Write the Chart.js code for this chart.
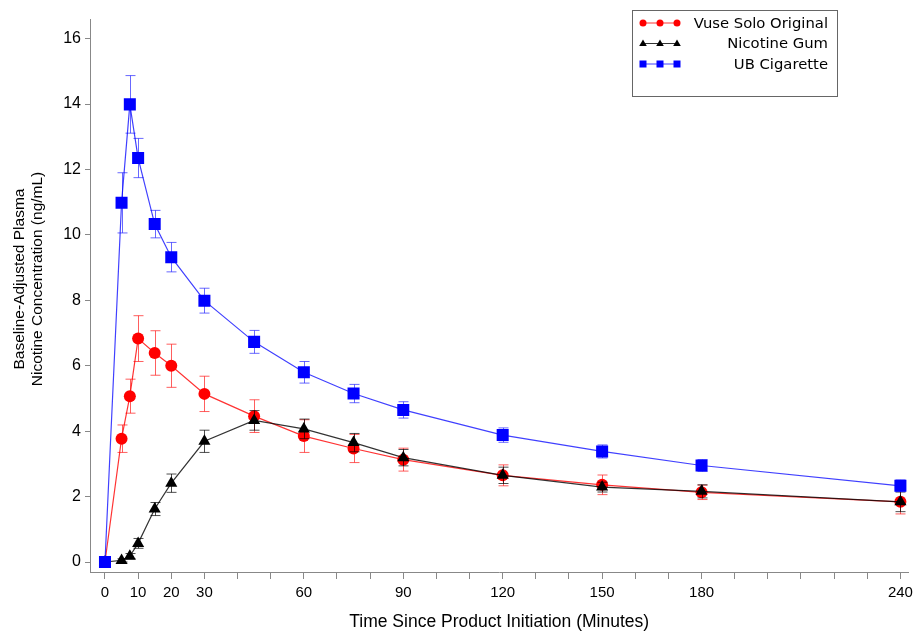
<!DOCTYPE html>
<html>
<head>
<meta charset="utf-8">
<script src="https://cdn.jsdelivr.net/npm/chart.js@4.4.1/dist/chart.umd.min.js"></script>
<style>
  body { margin: 0; background: #fff; }
  #wrap { width: 918px; height: 633px; }
</style>
</head>
<body>
<div id="wrap"><canvas id="pk" width="918" height="633"></canvas></div>
<script>
// sampling times (minutes) and mean +/- SE per product
const times = [0, 5, 7.5, 10, 15, 20, 30, 45, 60, 75, 90, 120, 150, 180, 240];
const vuseMean = [0, 3.77, 5.07, 6.83, 6.39, 6.0, 5.14, 4.46, 3.85, 3.47, 3.13, 2.65, 2.36, 2.13, 1.84];
const vuseErr  = [0, 0.42, 0.52, 0.7, 0.68, 0.66, 0.54, 0.5, 0.5, 0.43, 0.35, 0.32, 0.3, 0.22, 0.37];
const gumMean  = [0, 0.05, 0.18, 0.57, 1.62, 2.41, 3.69, 4.33, 4.07, 3.65, 3.19, 2.65, 2.29, 2.16, 1.84];
const gumErr   = [0, 0.05, 0.08, 0.15, 0.2, 0.28, 0.34, 0.3, 0.3, 0.28, 0.25, 0.25, 0.15, 0.2, 0.3];
const cigMean  = [0, 10.98, 13.99, 12.35, 10.33, 9.32, 7.99, 6.73, 5.8, 5.15, 4.65, 3.88, 3.38, 2.95, 2.33];
const cigErr   = [0, 0.92, 0.88, 0.6, 0.42, 0.45, 0.38, 0.35, 0.33, 0.28, 0.25, 0.22, 0.2, 0.18, 0.18];

const seriesNames = ["Vuse Solo Original", "Nicotine Gum", "UB Cigarette"];
const xTickVals = [0,10,20,30,40,50,60,70,80,90,100,110,120,130,140,150,160,170,180,190,200,210,220,230,240];
const xLabelled = [0, 10, 20, 30, 60, 90, 120, 150, 180, 240];
const yTickVals = [0, 2, 4, 6, 8, 10, 12, 14, 16];
const yTitle = ["Baseline-Adjusted Plasma", "Nicotine Concentration (ng/mL)"];

function pts(ys) {
  return times.map((t, i) => ({ x: t, y: ys[i] }));
}

const fontMain = "'Liberation Sans', Arial, sans-serif";

// error bars drawn just before each dataset so markers sit on top
const errorBars = {
  id: "errorBars",
  beforeDatasetDraw(chart, args) {
    const ds = chart.data.datasets[args.index];
    if (!ds.err) return;
    const xs = chart.scales.x, ys = chart.scales.y;
    const ctx = chart.ctx;
    ctx.save();
    ctx.strokeStyle = ds.errColor;
    ctx.lineWidth = 1;
    ds.data.forEach((p, i) => {
      const e = ds.err[i];
      if (!e) return;
      const px = Math.round(xs.getPixelForValue(p.x)) + 0.5;
      const top = ys.getPixelForValue(p.y + e);
      const bot = ys.getPixelForValue(p.y - e);
      ctx.beginPath();
      ctx.moveTo(px, top); ctx.lineTo(px, bot);
      ctx.moveTo(px - 5, top); ctx.lineTo(px + 5, top);
      ctx.moveTo(px - 5, bot); ctx.lineTo(px + 5, bot);
      ctx.stroke();
    });
    ctx.restore();
  }
};

function marker(ctx, style, x, y, r, color) {
  ctx.fillStyle = color;
  ctx.beginPath();
  if (style === "circle") {
    ctx.arc(x, y, r, 0, Math.PI * 2);
  } else if (style === "triangle") {
    ctx.moveTo(x, y - r);
    ctx.lineTo(x + r * 0.95, y + r * 0.6);
    ctx.lineTo(x - r * 0.95, y + r * 0.6);
    ctx.closePath();
  } else {
    ctx.rect(x - r, y - r, 2 * r, 2 * r);
  }
  ctx.fill();
}

// boxed legend top right + the two-line y title
const extras = {
  id: "extras",
  afterDraw(chart) {
    const ctx = chart.ctx;
    ctx.save();
    ctx.strokeStyle = "#666";
    ctx.lineWidth = 1;
    ctx.strokeRect(632.5, 10.5, 205, 86);
    const msize = [3.5, 4, 3.5];
    [0, 1, 2].forEach((di, k) => {
      const ds = chart.data.datasets[di];
      const y = 23 + k * 20.5;
      ctx.strokeStyle = ds.borderColor;
      ctx.beginPath();
      ctx.moveTo(643, y); ctx.lineTo(677, y);
      ctx.stroke();
      [643, 660, 677].forEach(x => marker(ctx, ds.pointStyle, x, y, msize[k], ds.pointBackgroundColor));
      ctx.fillStyle = "#000";
      ctx.font = "14.8px 'DejaVu Sans'";
      ctx.textAlign = "right";
      ctx.textBaseline = "middle";
      ctx.fillText(seriesNames[di], 828, y + 1);
    });

    ctx.translate(29, 279);
    ctx.rotate(-Math.PI / 2);
    ctx.font = "15.5px " + fontMain;
    ctx.textAlign = "center";
    ctx.textBaseline = "middle";
    ctx.fillText(yTitle[0], 0, -9);
    ctx.fillText(yTitle[1], 0, 9);
    ctx.restore();
  }
};

new Chart(document.getElementById("pk"), {
  type: "line",
  data: {
    datasets: [
      {
        label: seriesNames[0], data: pts(vuseMean), err: vuseErr,
        borderColor: "rgba(255,0,0,0.8)", errColor: "rgba(255,40,40,0.75)",
        pointStyle: "circle", pointRadius: 6, pointBackgroundColor: "#ff0000",
        pointBorderWidth: 0, borderWidth: 1.2, order: 3
      },
      {
        label: seriesNames[1], data: pts(gumMean), err: gumErr,
        borderColor: "rgba(0,0,0,0.8)", errColor: "rgba(0,0,0,0.7)",
        pointStyle: "triangle", pointRadius: 7, pointBackgroundColor: "#000",
        pointBorderWidth: 0, borderWidth: 1.2, order: 2
      },
      {
        label: seriesNames[2], data: pts(cigMean), err: cigErr,
        borderColor: "rgba(0,0,255,0.75)", errColor: "rgba(40,40,255,0.7)",
        pointStyle: "rect", pointRadius: 8.5, pointBackgroundColor: "#0000ff",
        pointBorderWidth: 0, borderWidth: 1.2, order: 1
      }
    ]
  },
  options: {
    responsive: false,
    animation: false,
    layout: { padding: { top: 19, right: 1, left: 0, bottom: 0 } },
    plugins: {
      legend: { display: false },
      tooltip: { enabled: false }
    },
    scales: {
      x: {
        type: "linear",
        min: -4.52, max: 242.4,
        afterBuildTicks: s => { s.ticks = xTickVals.map(v => ({ value: v })); },
        afterFit: s => { s.height = 61; },
        grid: { drawOnChartArea: false, drawTicks: true, tickLength: 7, color: "#888" },
        border: { color: "#888" },
        ticks: {
          autoSkip: false, maxRotation: 0, padding: 5, color: "#000",
          font: { family: fontMain, size: 15 },
          callback: v => xLabelled.includes(v) ? String(v) : ""
        },
        title: {
          display: true, text: "Time Since Product Initiation (Minutes)",
          color: "#000", font: { family: fontMain, size: 17.5 }, padding: { top: 4, bottom: 0 }
        }
      },
      y: {
        min: -0.305, max: 16.6,
        afterBuildTicks: s => { s.ticks = yTickVals.map(v => ({ value: v })); },
        afterFit: s => { s.width = 90; },
        grid: { drawOnChartArea: false, drawTicks: true, tickLength: 5, color: "#888" },
        border: { color: "#888" },
        ticks: { padding: 4, color: "#000", font: { family: fontMain, size: 16 } }
      }
    }
  },
  plugins: [errorBars, extras]
});
</script>
</body>
</html>
